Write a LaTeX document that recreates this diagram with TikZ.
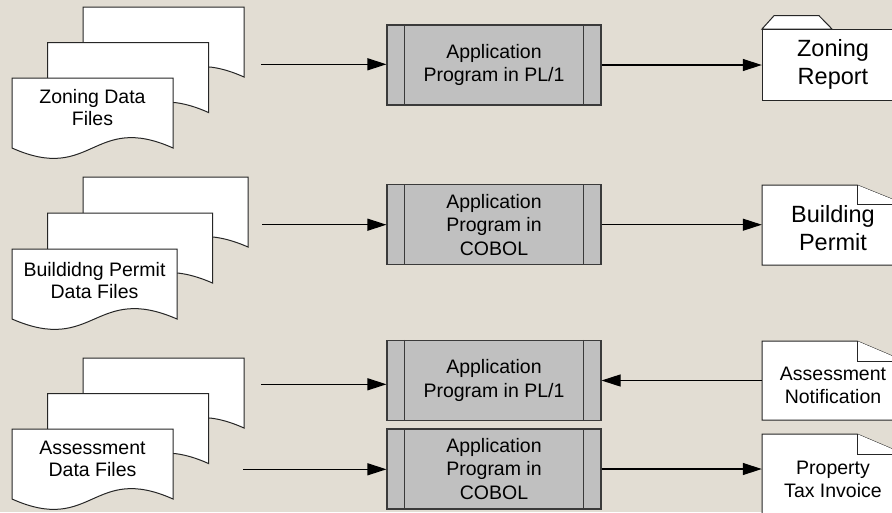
\documentclass[tikz,border=0pt]{standalone}
\usepackage{fontspec}
\setmainfont{Liberation Sans}
\usetikzlibrary{arrows.meta}

\definecolor{paper}{HTML}{E2DDD3}
\definecolor{procfill}{HTML}{C0C0C0}
\definecolor{outline}{HTML}{3A3A3A}

% one sheet of a stacked "document" symbol: top-left corner (#1,#2), width #3
\newcommand\DocSheet[3]{%
  \draw[docline] (#1,#2) -- ({#1+#3},#2) -- ({#1+#3},{#2+70})
    .. controls ({#1+0.5*#3},{#2+34}) and ({#1+0.5*#3},{#2+106}) .. (#1,{#2+70}) -- cycle;}

\tikzset{
  docline/.style={draw=black!85, fill=white, line width=1pt},
  doctext/.style={align=center, inner sep=0pt, font=\fontsize{19.5}{22}\selectfont},
  proc/.style={draw=outline, fill=procfill, line width=1.1pt,
    minimum width=214pt, minimum height=80pt, inner sep=0pt,
    align=center, font=\fontsize{19.5}{23.5}\selectfont},
  procbar/.style={draw=outline, line width=1.1pt},
  outline box/.style={draw=black!85, fill=white, line width=1pt},
  bigout/.style={align=center, inner sep=0pt, minimum width=142pt,
    font=\fontsize{23.5}{28}\selectfont},
  smallout/.style={align=center, inner sep=0pt, minimum width=142pt,
    font=\fontsize{19.5}{23}\selectfont},
  flow/.style={line width=1.1pt, -{Triangle[length=19pt,width=12pt]}},
}

\begin{document}
\begin{tikzpicture}[x=1pt,y=-1pt]
\fill[paper] (0,0) rectangle (892,512);
\useasboundingbox (0,0) rectangle (892,512);
\clip (0,0) rectangle (892,512);

% ---------- data file stacks ----------
\DocSheet{83}{7}{161}
\DocSheet{47.5}{42.5}{161}
\DocSheet{12}{78}{161}
\node[doctext] (zdata) at (92.5,107.5) {Zoning Data\\Files};

\DocSheet{83}{177}{165}
\DocSheet{47.5}{213}{165}
\DocSheet{12}{249}{165}
\node[doctext] (bdata) at (94.5,280.5) {Buildidng Permit\\Data Files};

\DocSheet{83}{358}{161}
\DocSheet{47.5}{393.5}{161}
\DocSheet{12}{429}{161}
\node[doctext] (adata) at (92.5,459) {Assessment\\Data Files};

% ---------- programs ----------
\node[proc] (zproc) at (494,65)    {Application\\Program in PL/1};
\node[proc] (bproc) at (494,224.7) {Application\\Program in\\COBOL};
\node[proc] (aproc) at (494,380.5) {Application\\Program in PL/1};
\node[proc] (pproc) at (494,469)   {Application\\Program in\\COBOL};
\foreach \p in {zproc,bproc,aproc,pproc}{
  \draw[procbar] ([xshift=18pt]\p.north west) -- ([xshift=18pt]\p.south west);
  \draw[procbar] ([xshift=-18pt]\p.north east) -- ([xshift=-18pt]\p.south east);
}

% ---------- outputs ----------
% folder-tab report
\draw[outline box] (762,29) -- (774,15.7) -- (819,15.7) -- (832,29) -- cycle;
\draw[outline box] (762,29) rectangle (904,100);
\node[bigout] (zrep) at (833,64.5) {Zoning\\Report};

% notes with a folded corner
\draw[outline box] (762,185) -- (857,185) -- (904,204) -- (904,265) -- (762,265) -- cycle;
\draw[outline box] (857,185) -- (857,204) -- (904,204);
\node[bigout] (bperm) at (833,228) {Building\\Permit};

\draw[outline box] (762,341) -- (857,341) -- (904,361) -- (904,420) -- (762,420) -- cycle;
\draw[outline box] (857,341) -- (857,361) -- (904,361);
\node[smallout] (anote) at (833,385) {Assessment\\Notification};

\draw[outline box] (762,434) -- (857,434) -- (904,454) -- (904,530) -- (762,530) -- cycle;
\draw[outline box] (857,434) -- (857,454) -- (904,454);
\node[smallout] (ptax) at (833,479) {Property\\Tax Invoice};

% ---------- flows ----------
\coordinate (zsrc)  at (261,64.3);
\coordinate (bsrc)  at (262,224.7);
\coordinate (asrc)  at (261,384.3);
\coordinate (psrc)  at (243,469.3);

\draw[flow] (zsrc) -- (zproc.west |- zsrc);
\draw[flow] (bsrc) -- (bproc.west |- bsrc);
\draw[flow] (asrc) -- (aproc.west |- asrc);
\draw[flow] (psrc) -- (pproc.west |- psrc);

\draw[flow] (zproc.east) -- (zrep.west |- zproc.east);
\draw[flow] (bproc.east) -- (bperm.west |- bproc.east);
\draw[flow] (anote.west |- aproc.east) -- (aproc.east);
\draw[flow] (pproc.east) -- (ptax.west |- pproc.east);
\end{tikzpicture}
\end{document}
